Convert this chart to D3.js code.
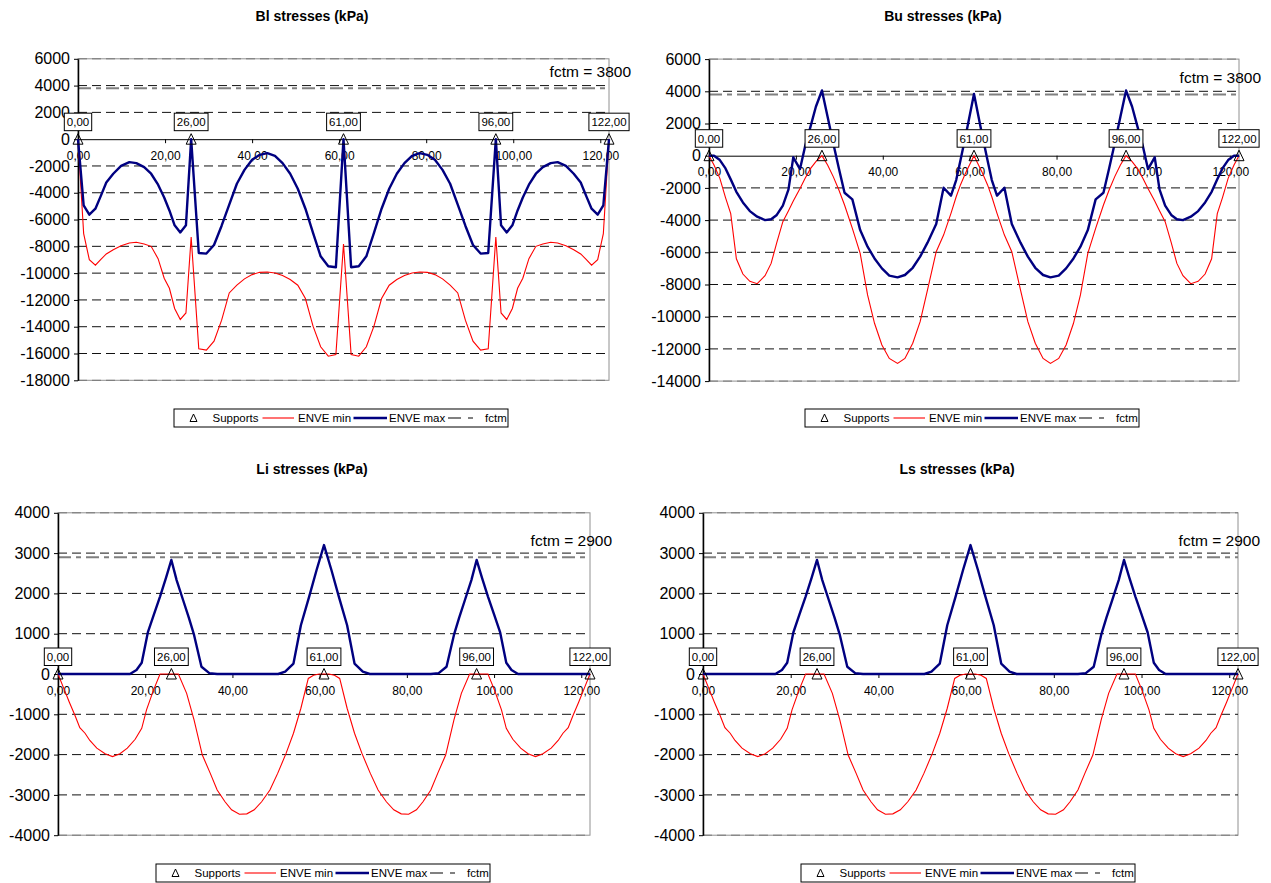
<!DOCTYPE html>
<html>
<head>
<meta charset="utf-8">
<script src="https://cdn.jsdelivr.net/npm/d3@7"></script>
<style>
  body { margin: 0; background: #fff; }
  svg { display: block; font-family: "Liberation Sans", Arial, sans-serif; }
</style>
</head>
<body>
<svg id="chart" width="1271" height="883"></svg>
<script>
// Support positions along the beam (m) and their labels
const supports = [0, 26, 61, 96, 122];
const supportLabels = ["0,00", "26,00", "61,00", "96,00", "122,00"];
const xTicks = [0, 20, 40, 60, 80, 100, 120];

// ---- Bl stresses ----
const blTicks = [6000, 4000, 2000, 0, -2000, -4000, -6000, -8000, -10000, -12000, -14000, -16000, -18000];
const blFctm = 3800;
const blX = [0, 1.3, 2.6, 4.0, 5.2, 6.5, 8.1, 9.9, 11.8, 13.4, 15.2, 16.8, 18.4, 19.8, 21.0, 22.2, 23.5, 24.8, 26,
  27.75, 29.5, 31.25, 33, 34.75, 36.5, 38.25, 40, 41.75, 43.5, 45.25, 47, 48.75, 50.5, 52.25, 54, 55.75, 57.5, 59.25, 61,
  62.75, 64.5, 66.25, 68, 69.75, 71.5, 73.25, 75, 76.75, 78.5, 80.25, 82, 83.75, 85.5, 87.25, 89, 90.75, 92.5, 94.25, 96,
  97.2, 98.5, 99.8, 101, 102.2, 103.6, 105.2, 106.8, 108.6, 110.2, 112.1, 113.9, 115.5, 116.8, 118, 119.4, 120.7, 122];
const blMax = [0, -4940, -5640, -5190, -4270, -3230, -2580, -1990, -1710, -1790, -2090, -2580, -3400, -4350, -5320, -6430, -6960, -6430, 0,
  -8500, -8540, -7900, -6460, -4890, -3330, -2290, -1540, -1170, -1040, -1240, -1790, -2580, -3700, -5190, -7000, -8740, -9490, -9560, 0,
  -9560, -9490, -8740, -7000, -5190, -3700, -2580, -1790, -1240, -1040, -1170, -1540, -2290, -3330, -4890, -6460, -7900, -8540, -8500, 0,
  -6430, -6960, -6430, -5320, -4350, -3400, -2580, -2090, -1790, -1710, -1990, -2580, -3230, -4270, -5190, -5640, -4940, 0];
const blMin = [0, -7050, -8990, -9410, -8990, -8570, -8250, -7950, -7750, -7700, -7820, -8000, -8920, -10380, -11130, -12640, -13460, -12970, -7300,
  -15650, -15750, -15080, -13510, -11480, -10900, -10430, -10110, -9940, -9910, -9990, -10180, -10480, -10900, -11900, -13960, -15500, -16200, -16070, -7820,
  -16070, -16200, -15500, -13960, -11900, -10900, -10480, -10180, -9990, -9910, -9940, -10110, -10430, -10900, -11480, -13510, -15080, -15750, -15650, -7300,
  -12970, -13460, -12640, -11130, -10380, -8920, -8000, -7820, -7700, -7750, -7950, -8250, -8570, -8990, -9410, -8990, -7050, 0];

// ---- Bu stresses ----
const buTicks = [6000, 4000, 2000, 0, -2000, -4000, -6000, -8000, -10000, -12000, -14000];
const buFctm = 3800;
const buX = [0, 1.15, 2.5, 3.8, 5.0, 6.3, 7.8, 9.4, 11.1, 12.9, 14.3, 15.6, 17.0, 18.3, 19.4, 20.95, 22.1, 23.4, 24.6, 26,
  27.3, 28.6, 29.9, 31.2, 33.0, 34.8, 36.5, 38.1, 39.8, 41.5, 43.4, 45.1, 46.9, 48.6, 50.3, 52.3, 54.0, 55.7, 56.9, 57.9, 59.2, 61,
  62.8, 64.1, 65.1, 66.3, 68.0, 69.7, 71.7, 73.4, 75.1, 76.9, 78.6, 80.5, 82.2, 83.9, 85.5, 87.2, 89.0, 90.8, 92.1, 93.4, 94.7, 96,
  97.4, 98.6, 99.9, 101.05, 102.6, 103.7, 105, 106.4, 107.7, 109.1, 110.9, 112.6, 114.2, 115.7, 117, 118.2, 119.5, 120.85, 122];
const buMax = [0, 0, -270, -790, -1470, -2240, -2900, -3440, -3790, -4000, -3950, -3680, -3100, -2090, -100, -830, 560, 1840, 3040, 4050,
  2420, 770, -790, -2300, -2710, -4620, -5650, -6380, -7000, -7450, -7560, -7410, -6960, -6270, -5400, -4240, -1990, -2480, -1510, -270, 1390, 3830,
  1390, -270, -1510, -2480, -1990, -4240, -5400, -6270, -6960, -7410, -7560, -7450, -7000, -6380, -5650, -4620, -2710, -2300, -790, 770, 2420, 4050,
  3040, 1840, 560, -830, -100, -2090, -3100, -3680, -3950, -4000, -3790, -3440, -2900, -2240, -1470, -790, -270, 0, 0];
const buMin = [0, -580, -1410, -2600, -3600, -6400, -7350, -7800, -7950, -7450, -6690, -5400, -4100, -3420, -2820, -2030, -1410, -790, -370, 0,
  -580, -1300, -2130, -3060, -4510, -6070, -8650, -10410, -11760, -12590, -12900, -12590, -11650, -10310, -8340, -5960, -4930, -3580, -2550, -1800, -990, 0,
  -990, -1800, -2550, -3580, -4930, -5960, -8340, -10310, -11650, -12590, -12900, -12590, -11760, -10410, -8650, -6070, -4510, -3060, -2130, -1300, -580, 0,
  -370, -790, -1410, -2030, -2820, -3420, -4100, -5400, -6690, -7450, -7950, -7800, -7350, -6400, -3600, -2600, -1410, -580, 0];

// ---- Li stresses ----
const liTicks = [4000, 3000, 2000, 1000, 0, -1000, -2000, -3000, -4000];
const liFctm = 2900;
const liMaxX = [0, 16.5, 18.0, 19.2, 20.6, 22.0, 23.4, 24.8, 26, 27.2, 28.7, 30.0, 31.2, 32.9, 34.7, 36.5,
  50.5, 52.1, 54.0, 55.7, 57.6, 59.3, 61, 62.7, 64.4, 66.3, 68.0, 69.9, 71.5,
  85.5, 87.3, 89.1, 90.8, 92.0, 93.3, 94.8, 96, 97.2, 98.6, 100.0, 101.4, 102.8, 104.0, 105.5, 122];
const liMax = [0, 0, 100, 280, 1030, 1480, 1920, 2400, 2830, 2330, 1830, 1400, 970, 180, 20, 0,
  0, 60, 260, 1210, 1920, 2580, 3200, 2580, 1920, 1210, 260, 60, 0,
  0, 20, 180, 970, 1400, 1830, 2330, 2830, 2400, 1920, 1480, 1030, 280, 100, 0, 0];
const liMinX = [0, 1.3, 2.6, 3.9, 5.0, 6.2, 7.3, 8.9, 10.8, 12.5, 14.2, 15.9, 17.7, 19.2, 20.3, 21.9, 23.4,
  27.6, 29.5, 31.2, 33.1, 34.9, 36.5, 38.3, 39.8, 41.6, 43.3, 45.0, 46.7, 48.6, 50.4, 52.3, 54.0, 55.7, 57.4, 58.6, 59.9,
  62.1, 63.4, 64.6, 66.3, 68.0, 69.7, 71.6, 73.4, 75.3, 77.0, 78.7, 80.4, 82.2, 83.7, 85.5, 87.1, 88.9, 90.8, 92.5, 94.4,
  98.6, 100.1, 101.7, 102.8, 104.3, 106.1, 107.8, 109.5, 111.2, 113.1, 114.7, 115.8, 117.0, 118.1, 119.4, 120.7, 122];
const liMin = [0, -350, -700, -1030, -1330, -1470, -1650, -1840, -1980, -2050, -1980, -1840, -1620, -1350, -890, -400, 0,
  0, -480, -1140, -2010, -2460, -2880, -3170, -3370, -3480, -3470, -3370, -3170, -2880, -2460, -1970, -1470, -850, -110, -30, 0,
  0, -30, -110, -850, -1470, -1970, -2460, -2880, -3170, -3370, -3470, -3480, -3370, -3170, -2880, -2460, -2010, -1140, -480, 0,
  0, -400, -890, -1350, -1620, -1840, -1980, -2050, -1980, -1840, -1650, -1470, -1330, -1030, -700, -350, 0];

// ---- Ls stresses ----
const lsTicks = [4000, 3000, 2000, 1000, 0, -1000, -2000, -3000, -4000];
const lsFctm = 2900;
const lsMaxX = [0, 16.5, 18.0, 19.2, 20.6, 22.0, 23.4, 24.8, 26, 27.2, 28.7, 30.0, 31.2, 32.9, 34.7, 36.5,
  50.5, 52.1, 54.0, 55.7, 57.6, 59.3, 61, 62.7, 64.4, 66.3, 68.0, 69.9, 71.5,
  85.5, 87.3, 89.1, 90.8, 92.0, 93.3, 94.8, 96, 97.2, 98.6, 100.0, 101.4, 102.8, 104.0, 105.5, 122];
const lsMax = [0, 0, 100, 280, 1030, 1480, 1920, 2400, 2830, 2330, 1830, 1400, 970, 180, 20, 0,
  0, 60, 260, 1210, 1920, 2580, 3200, 2580, 1920, 1210, 260, 60, 0,
  0, 20, 180, 970, 1400, 1830, 2330, 2830, 2400, 1920, 1480, 1030, 280, 100, 0, 0];
const lsMinX = [0, 1.3, 2.6, 3.9, 5.0, 6.2, 7.3, 8.9, 10.8, 12.5, 14.2, 15.9, 17.7, 19.2, 20.3, 21.9, 23.4,
  27.6, 29.5, 31.2, 33.1, 34.9, 36.5, 38.3, 39.8, 41.6, 43.3, 45.0, 46.7, 48.6, 50.4, 52.3, 54.0, 55.7, 57.4, 58.6, 59.9,
  62.1, 63.4, 64.6, 66.3, 68.0, 69.7, 71.6, 73.4, 75.3, 77.0, 78.7, 80.4, 82.2, 83.7, 85.5, 87.1, 88.9, 90.8, 92.5, 94.4,
  98.6, 100.1, 101.7, 102.8, 104.3, 106.1, 107.8, 109.5, 111.2, 113.1, 114.7, 115.8, 117.0, 118.1, 119.4, 120.7, 122];
const lsMin = [0, -350, -700, -1030, -1330, -1470, -1650, -1840, -1980, -2050, -1980, -1840, -1620, -1350, -890, -400, 0,
  0, -480, -1140, -2010, -2460, -2880, -3170, -3370, -3480, -3470, -3370, -3170, -2880, -2460, -1970, -1470, -850, -110, -30, 0,
  0, -30, -110, -850, -1470, -1970, -2460, -2880, -3170, -3370, -3470, -3480, -3370, -3170, -2880, -2460, -2010, -1140, -480, 0,
  0, -400, -890, -1350, -1620, -1840, -1980, -2050, -1980, -1840, -1650, -1470, -1330, -1030, -700, -350, 0];

// Panel layout (pixel geometry of each plot area, title and legend)
const panels = [
  { title: "Bl stresses (kPa)", titleX: 312, titleY: 21, left: 78, top: 58.8, width: 531, height: 321.5,
    ticks: blTicks, fctm: blFctm, maxX: blX, max: blMax, minX: blX, min: blMin, legendX: 174, legendY: 409 },
  { title: "Bu stresses (kPa)", titleX: 943, titleY: 21, left: 709, top: 59.1, width: 530, height: 322,
    ticks: buTicks, fctm: buFctm, maxX: buX, max: buMax, minX: buX, min: buMin, legendX: 805, legendY: 409 },
  { title: "Li stresses (kPa)", titleX: 312, titleY: 474, left: 58, top: 512.8, width: 532, height: 322.4,
    ticks: liTicks, fctm: liFctm, maxX: liMaxX, max: liMax, minX: liMinX, min: liMin, legendX: 156, legendY: 864 },
  { title: "Ls stresses (kPa)", titleX: 957, titleY: 474, left: 703, top: 512.8, width: 535, height: 322.4,
    ticks: lsTicks, fctm: lsFctm, maxX: lsMaxX, max: lsMax, minX: lsMinX, min: lsMin, legendX: 801, legendY: 864 }
];

const svg = d3.select("#chart");
const fmtComma = d => d.toFixed(2).replace(".", ",");
const triPath = (cx, cy) => `M${cx},${cy - 5.5}L${cx + 5},${cy + 5}L${cx - 5},${cy + 5}Z`;

function drawPanel(p) {
  const g = svg.append("g");
  const yMin = p.ticks[p.ticks.length - 1], yMax = p.ticks[0];
  const x = d3.scaleLinear().domain([0, 122]).range([p.left, p.left + p.width]);
  const y = d3.scaleLinear().domain([yMin, yMax]).range([p.top + p.height, p.top]);
  const right = p.left + p.width;

  g.append("text")
    .attr("x", p.titleX).attr("y", p.titleY)
    .attr("text-anchor", "middle").attr("font-size", 14).attr("font-weight", "bold")
    .text(p.title);

  // plot area frame
  g.append("rect")
    .attr("x", p.left).attr("y", p.top).attr("width", p.width).attr("height", p.height)
    .attr("fill", "none").attr("stroke", "#909090").attr("stroke-width", 1);

  // dashed horizontal gridlines
  g.append("g").selectAll("line")
    .data(p.ticks.filter(v => v !== 0))
    .join("line")
    .attr("x1", p.left).attr("x2", right)
    .attr("y1", d => y(d)).attr("y2", d => y(d))
    .attr("stroke", d => (d === yMax || d === yMin) ? "#777" : "#111")
    .attr("stroke-width", 1)
    .attr("stroke-dasharray", "9,5");

  // fctm limit line and label
  g.append("line")
    .attr("x1", p.left).attr("x2", right)
    .attr("y1", y(p.fctm)).attr("y2", y(p.fctm))
    .attr("stroke", "#808080").attr("stroke-width", 2)
    .attr("stroke-dasharray", "13,5,5,5");
  g.append("text")
    .attr("x", right + 22).attr("y", y(p.fctm) - 17)
    .attr("dy", "0.35em").attr("text-anchor", "end").attr("font-size", 15.5)
    .text("fctm = " + p.fctm);

  // y axis
  const yAxis = d3.axisLeft(y).tickValues(p.ticks).tickSize(4).tickSizeOuter(0).tickPadding(4)
    .tickFormat(d => String(d));
  const ya = g.append("g").attr("transform", `translate(${p.left},0)`).call(yAxis);
  ya.select(".domain").attr("stroke", "#000").attr("stroke-width", 1.5);
  ya.selectAll(".tick line").attr("stroke", "#000");
  ya.selectAll(".tick text").attr("font-size", 16).attr("fill", "#000")
    .attr("font-family", "Liberation Sans, Arial, sans-serif");

  // x axis along the zero line
  const xAxis = d3.axisBottom(x).tickValues(xTicks).tickSize(4).tickSizeOuter(0).tickPadding(8)
    .tickFormat(fmtComma);
  const xa = g.append("g").attr("transform", `translate(0,${y(0)})`).call(xAxis);
  xa.select(".domain").attr("stroke", "#000").attr("stroke-width", 1);
  xa.selectAll(".tick line").attr("stroke", "#000");
  xa.selectAll(".tick text").attr("font-size", 12).attr("fill", "#000")
    .attr("font-family", "Liberation Sans, Arial, sans-serif");

  // envelopes
  const minPts = p.minX.map((v, i) => [v, p.min[i]]);
  const maxPts = p.maxX.map((v, i) => [v, p.max[i]]);
  const line = d3.line().x(d => x(d[0])).y(d => y(d[1]));
  g.append("path").datum(minPts).attr("d", line)
    .attr("fill", "none").attr("stroke", "#ff0000").attr("stroke-width", 1.1);
  g.append("path").datum(maxPts).attr("d", line)
    .attr("fill", "none").attr("stroke", "#000080").attr("stroke-width", 2.4)
    .attr("stroke-linejoin", "round");

  // supports: hollow triangles and boxed position labels
  const y0 = y(0);
  g.append("g").selectAll("path")
    .data(supports).join("path")
    .attr("d", d => triPath(x(d), y0))
    .attr("fill", "none").attr("stroke", "#000").attr("stroke-width", 1);

  const lab = g.append("g").selectAll("g").data(supports).join("g");
  lab.each(function (d, i) {
    const s = d3.select(this);
    const t = s.append("text")
      .attr("x", x(d)).attr("y", y0 - 17).attr("dy", "0.35em")
      .attr("text-anchor", "middle").attr("font-size", 11.5)
      .text(supportLabels[i]);
    const bb = t.node().getBBox();
    s.insert("rect", "text")
      .attr("x", x(d) - bb.width / 2 - 2.5).attr("y", y0 - 26)
      .attr("width", bb.width + 5).attr("height", 17.5)
      .attr("fill", "#fff").attr("stroke", "#000").attr("stroke-width", 1);
  });

  // legend
  const lx = p.legendX, ly = p.legendY, lh = 18, cy = ly + lh / 2;
  const lg = g.append("g");
  lg.append("rect").attr("x", lx).attr("y", ly).attr("width", 334).attr("height", lh)
    .attr("fill", "#fff").attr("stroke", "#000").attr("stroke-width", 1);
  lg.append("path").attr("d", `M${lx + 19.5},${cy - 4}L${lx + 23},${cy + 3.5}L${lx + 16},${cy + 3.5}Z`)
    .attr("fill", "none").attr("stroke", "#000").attr("stroke-width", 1);
  const legText = (tx, s) => lg.append("text").attr("x", lx + tx).attr("y", cy).attr("dy", "0.35em")
    .attr("font-size", 11.5).text(s);
  legText(38.5, "Supports");
  lg.append("line").attr("x1", lx + 88.5).attr("x2", lx + 120).attr("y1", cy).attr("y2", cy)
    .attr("stroke", "#ff0000").attr("stroke-width", 1.1);
  legText(124, "ENVE min");
  lg.append("line").attr("x1", lx + 179.5).attr("x2", lx + 213).attr("y1", cy).attr("y2", cy)
    .attr("stroke", "#000080").attr("stroke-width", 2.4);
  legText(215, "ENVE max");
  lg.append("line").attr("x1", lx + 274).attr("x2", lx + 301).attr("y1", cy).attr("y2", cy)
    .attr("stroke", "#808080").attr("stroke-width", 2).attr("stroke-dasharray", "13,7,5,5");
  legText(311, "fctm");
}

panels.forEach(drawPanel);
</script>
</body>
</html>
